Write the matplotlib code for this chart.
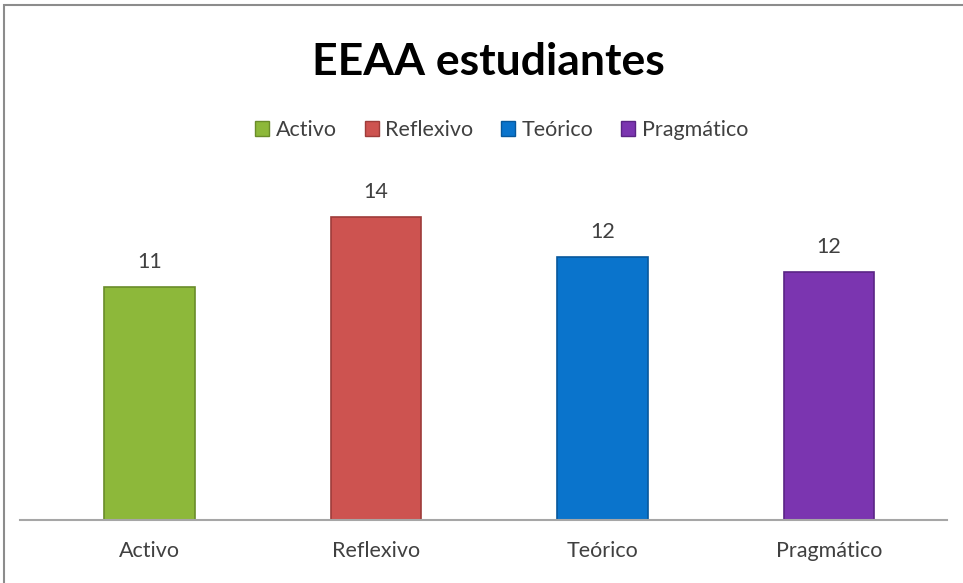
import matplotlib
matplotlib.use("Agg")
import matplotlib.pyplot as plt
from matplotlib.patches import Patch, Rectangle
import numpy as np

categories = ["Activo", "Reflexivo", "Teórico", "Pragmático"]
values = [10.9, 14.2, 12.3, 11.6]
colors = ["#8DB83A", "#CD5350", "#0A74CC", "#7B35B0"]
edge_colors = ["#6A8C2A", "#9E3C3A", "#07589C", "#5A2585"]
title = "EEAA estudiantes"

plt.rcParams["font.family"] = ["Lato", "DejaVu Sans"]

fig = plt.figure(figsize=(9.63, 5.83), dpi=100)
ax = fig.add_axes([20 / 963, 1 - 520 / 583, 927 / 963, 350 / 583])

x = np.arange(len(categories))
bars = ax.bar(x, values, width=0.40, color=colors, edgecolor=edge_colors, linewidth=1.2)

for rect, v in zip(bars, values):
    ax.annotate(f"{v:.0f}", (rect.get_x() + rect.get_width() / 2, rect.get_height()),
                xytext=(0, 11), textcoords="offset points", ha="center", va="bottom",
                fontsize=15.5, color="#404040")

ax.set_xlim(-0.57, 3.52)
ax.set_ylim(0, 16.4)
ax.set_xticks(x)
ax.set_xticklabels(categories, fontsize=15.5, color="#404040")
ax.tick_params(axis="x", length=0, pad=15)
ax.set_yticks([])
for side in ["top", "right", "left"]:
    ax.spines[side].set_visible(False)
ax.spines["bottom"].set_color("#A6A6A6")
ax.spines["bottom"].set_linewidth(1.5)

fig.text(0.507, 1 - 62 / 583, title, ha="center", va="center",
         fontsize=32, fontweight="bold", color="#000000")

handles = [Patch(facecolor=c, edgecolor=e) for c, e in zip(colors, edge_colors)]
fig.legend(handles, categories, loc="center", bbox_to_anchor=(0.521, 1 - 130 / 583),
           ncol=4, frameon=False, fontsize=15.5, handlelength=0.65, handleheight=0.65,
           handletextpad=0.3, columnspacing=1.3, labelcolor="#404040")

fig.patches.append(Rectangle((4 / 963, -0.2), 1.2, 1.2 - 5 / 583, transform=fig.transFigure,
                             fill=False, edgecolor="#8C8C8C", linewidth=1.5))

fig.savefig("out.png", dpi=100)
